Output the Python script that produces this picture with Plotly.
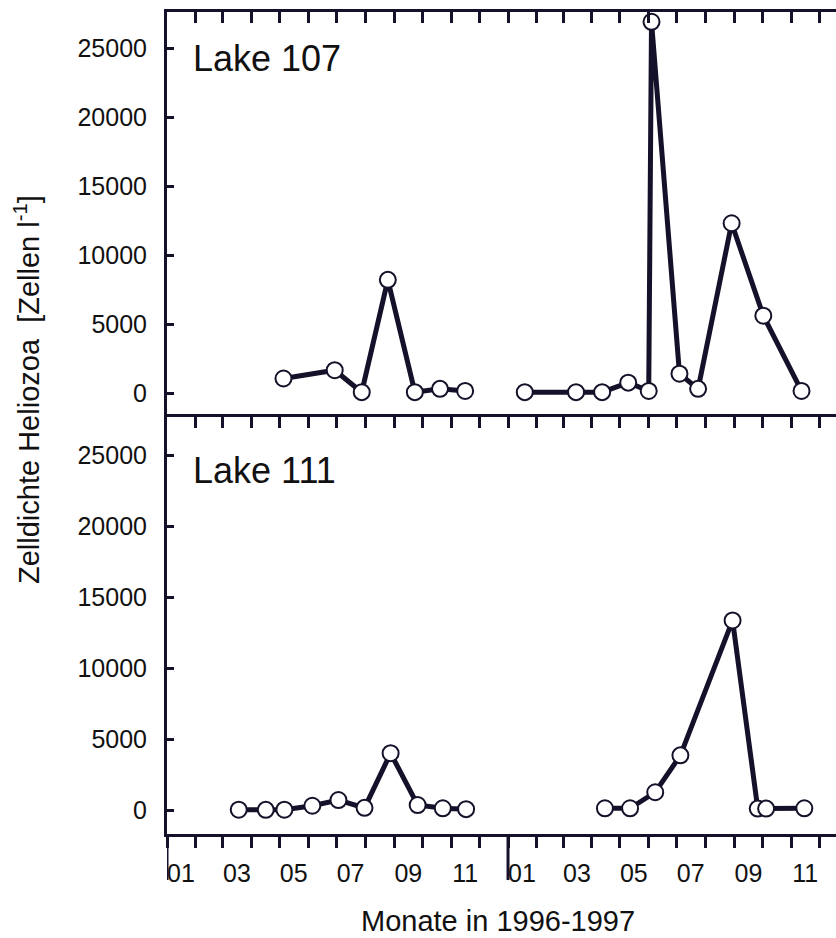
import plotly.graph_objects as go

# Zelldichte Heliozoa (Zellen pro Liter)
lake107_dates_1996 = ["1996-05-05", "1996-06-29", "1996-07-28", "1996-08-25",
                      "1996-09-23", "1996-10-20", "1996-11-16"]
lake107_cells_1996 = [1050, 1650, 60, 8200, 60, 300, 150]
lake107_dates_1997 = ["1997-01-19", "1997-03-15", "1997-04-12", "1997-05-10",
                      "1997-06-01", "1997-06-04", "1997-07-04", "1997-07-24",
                      "1997-08-29", "1997-10-02", "1997-11-12"]
lake107_cells_1997 = [60, 60, 60, 750, 150, 26900, 1400, 300, 12300, 5600, 150]

lake111_dates_1996 = ["1996-03-18", "1996-04-16", "1996-05-06", "1996-06-05",
                      "1996-07-03", "1996-07-31", "1996-08-28", "1996-09-26",
                      "1996-10-23", "1996-11-17"]
lake111_cells_1996 = [20, 10, 20, 300, 700, 150, 4000, 350, 120, 60]
lake111_dates_1997 = ["1997-04-15", "1997-05-12", "1997-06-08", "1997-07-05",
                      "1997-08-30", "1997-09-26", "1997-10-05", "1997-11-15"]
lake111_cells_1997 = [120, 120, 1250, 3850, 13350, 100, 100, 120]

month_tick_dates = ["1996-01-16", "1996-03-16", "1996-05-16", "1996-07-16",
                    "1996-09-16", "1996-11-16", "1997-01-16", "1997-03-16",
                    "1997-05-16", "1997-07-16", "1997-09-16", "1997-11-16"]
month_tick_labels = ["01", "03", "05", "07", "09", "11",
                     "01", "03", "05", "07", "09", "11"]
year_starts = ["1996-01-01", "1997-01-01"]
y_ticks = [0, 5000, 10000, 15000, 20000, 25000]
y_tick_labels = ["0", "5000", "10000", "15000", "20000", "25000"]

INK = "#15112a"
FONT = "Liberation Sans, Arial, sans-serif"
X_RANGE = ["1996-01-01", "1997-12-19"]

fig = go.Figure()


def add_series(dates, cells, xa, ya):
    fig.add_trace(go.Scatter(
        x=dates, y=cells, xaxis=xa, yaxis=ya, mode="lines+markers",
        line=dict(color=INK, width=5),
        marker=dict(symbol="circle", size=16, color="white",
                    line=dict(color=INK, width=2)),
        showlegend=False, hoverinfo="x+y"))


add_series(lake107_dates_1996, lake107_cells_1996, "x", "y")
add_series(lake107_dates_1997, lake107_cells_1997, "x", "y")
add_series(lake111_dates_1996, lake111_cells_1996, "x2", "y2")
add_series(lake111_dates_1997, lake111_cells_1997, "x2", "y2")
# empty trace so the inner top axis of the lower panel is drawn
fig.add_trace(go.Scatter(x=[], y=[], xaxis="x3", yaxis="y2", showlegend=False))

split = (834 - 417) / 822

month_minor = dict(dtick="M1", tick0="1996-01-01", ticklen=11, tickwidth=3,
                   tickcolor=INK)

yax = dict(range=[-1739, 27609], tickvals=y_ticks, ticktext=y_tick_labels,
           ticks="inside", ticklen=7, automargin=False,
           tickwidth=3, tickcolor=INK, showline=True, linewidth=3,
           linecolor=INK, showgrid=False, zeroline=False,
           tickfont=dict(family=FONT, size=25, color="#111"),
           ticklabelstandoff=12)

fig.update_layout(
    width=836, height=938,
    margin=dict(l=167, r=0, t=12, b=104, autoexpand=False),
    paper_bgcolor="white", plot_bgcolor="white",
    xaxis=dict(type="date", range=X_RANGE, anchor="y", side="top",
               automargin=False,
               showline=True, linewidth=3, linecolor=INK,
               showgrid=False, tickvals=month_tick_dates, showticklabels=False,
               ticks="inside", ticklen=0,
               minor=dict(ticks="inside", **month_minor)),
    xaxis2=dict(type="date", range=X_RANGE, anchor="y2", side="bottom",
                automargin=False,
                showline=True, linewidth=3, linecolor=INK, showgrid=False,
                tickvals=month_tick_dates, ticktext=month_tick_labels,
                ticks="outside", ticklen=0, ticklabelstandoff=15,
                tickfont=dict(family=FONT, size=25, color="#111"),
                minor=dict(ticks="outside", **month_minor)),
    xaxis3=dict(type="date", range=X_RANGE, anchor="y2", overlaying="x2",
                side="top", automargin=False,
                showline=True, linewidth=3, linecolor=INK,
                showgrid=False, tickvals=month_tick_dates,
                showticklabels=False, ticks="inside", ticklen=0,
                minor=dict(ticks="inside", **month_minor)),
    yaxis=dict(domain=[split, 1], anchor="x", **yax),
    yaxis2=dict(domain=[0, split], anchor="x2",
                **{**yax, "range": [-1690, 27676]}),
)

# long year-boundary ticks below the lower panel
for d in year_starts:
    fig.add_shape(type="line", xref="x2", yref="paper", x0=d, x1=d,
                  y0=0, y1=-0.056, line=dict(color=INK, width=3))

fig.add_annotation(text="Lake 107", xref="paper", yref="paper",
                   x=(191 - 167) / 669, y=(834 - 58) / 822,
                   xanchor="left", yanchor="middle", showarrow=False,
                   font=dict(family=FONT, size=36, color="#111"))
fig.add_annotation(text="Lake 111", xref="paper", yref="paper",
                   x=(191 - 167) / 669, y=(834 - 471) / 822,
                   xanchor="left", yanchor="middle", showarrow=False,
                   font=dict(family=FONT, size=36, color="#111"))
fig.add_annotation(text="Zelldichte Heliozoa  [Zellen l<sup>-1</sup>]",
                   xref="paper", yref="paper",
                   x=(27 - 167) / 669, y=(834 - 390) / 822, textangle=-90,
                   xanchor="center", yanchor="middle", showarrow=False,
                   font=dict(family=FONT, size=29, color="#111"))
fig.add_annotation(text="Monate in 1996-1997", xref="paper", yref="paper",
                   x=(498 - 167) / 669, y=(834 - 921) / 822,
                   xanchor="center", yanchor="middle", showarrow=False,
                   font=dict(family=FONT, size=29, color="#111"))

# the page's default body margin would shift the figure by 8 px
fig.write_html("out.html", config={"displayModeBar": False},
               post_script="document.body.style.margin='0';")
